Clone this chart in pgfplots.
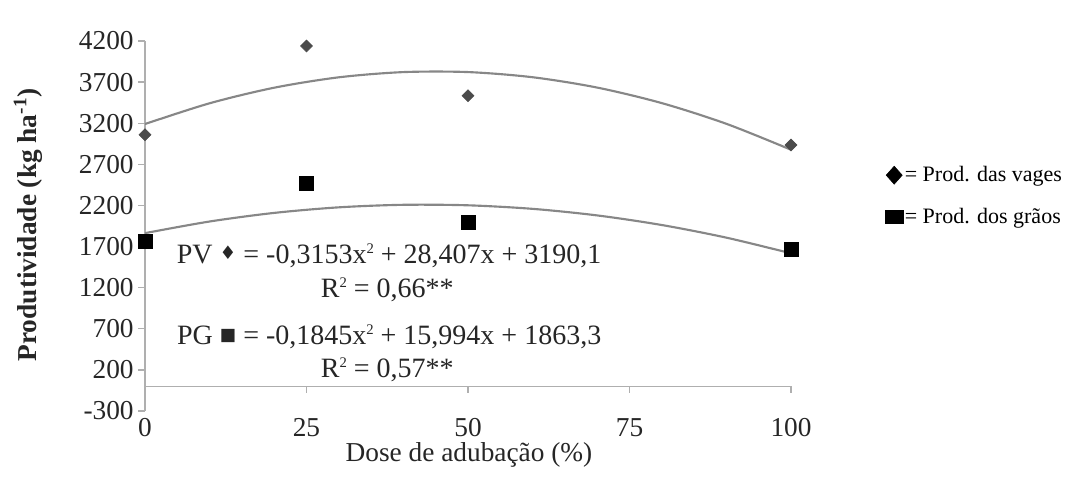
\documentclass[border=0pt]{standalone}
\usepackage{fontspec}
\setmainfont{Liberation Serif}
\newfontfamily\symfont{DejaVu Sans}
\usepackage{pgfplots}
\pgfplotsset{compat=1.18}
\definecolor{axgray}{RGB}{175,175,175}
\definecolor{curvegray}{RGB}{135,135,135}
\definecolor{markgray}{RGB}{75,75,75}
\newcommand{\sq}{\raisebox{0.75ex}{\fontsize{11}{11}\selectfont 2}}

\begin{document}
\begin{tikzpicture}
\useasboundingbox (-108.75pt,-51.75pt) rectangle (692.25pt,308.25pt);
\begin{axis}[
  at={(0pt,0pt)}, anchor=south west,
  scale only axis, width=484.5pt, height=277.5pt,
  xmin=0, xmax=100, ymin=-300, ymax=4200,
  axis y line*=left, axis x line*=bottom,
  x axis line style={draw=none},
  y axis line style={draw=axgray, line width=1.1pt, -},
  xtick={0,25,50,75,100},
  ytick={-300,200,...,4200},
  xtick style={draw=none},
  ytick style={draw=axgray, line width=1pt},
  tick align=outside,
  major tick length=5pt,
  tick label style={font=\fontsize{20.5}{24}\selectfont, text=black!85},
  xticklabel style={yshift=3pt},
  /pgf/number format/assume math mode=true,
  /pgf/number format/1000 sep={},
  clip=false,
  legend style={at={(1.145,0.665)}, anchor=north west, draw=none, fill=none,
    inner sep=0pt, font=\fontsize{16.5}{19}\selectfont, row sep=16pt,
    nodes={inner sep=1pt}},
  legend cell align=left,
]
\addlegendimage{legend image code/.code={\fill[black] (0pt,-6.75pt) -- (6pt,0pt) -- (0pt,6.75pt) -- (-6pt,0pt) -- cycle;}}
\addlegendentry{= Prod. das vages}
\addlegendimage{legend image code/.code={\fill[black] (-6.75pt,-5pt) rectangle (6.75pt,5pt);}}
\addlegendentry{= Prod. dos grãos}

% x axis line at y = 0
\draw[axgray, line width=1.1pt] (axis cs:0,0) -- (axis cs:100,0);
\pgfplotsinvokeforeach{25,50,75,100}{\draw[axgray, line width=1pt] (axis cs:#1,0) -- ++(0pt,-5pt);}

% fitted curves
\addplot[curvegray, line width=1.6pt, smooth, forget plot] coordinates {
 (0,3190.1) (10,3442.6) (20,3632.1) (30,3758.5) (40,3821.9) (50,3822.2)
 (60,3759.4) (70,3633.6) (80,3444.7) (90,3192.8) (100,2877.8)};
\addplot[curvegray, line width=1.6pt, smooth, forget plot] coordinates {
 (0,1863.3) (10,2004.8) (20,2109.4) (30,2177.1) (40,2207.9) (50,2201.8)
 (60,2158.7) (70,2078.8) (80,1962.0) (90,1808.3) (100,1617.7)};

% observed points
\addplot[only marks, mark=square*, mark size=3.2pt, mark options={rotate=45, fill=markgray, draw=markgray}, forget plot]
 coordinates {(0,3060) (25,4140) (50,3535) (100,2935)};
\addplot[only marks, mark=square*, mark size=5.4pt, mark options={fill=black, draw=black}, forget plot]
 coordinates {(0,1767) (25,2473) (50,1998) (100,1670)};

% equations
\node[font=\fontsize{21}{25}\selectfont, text=black!85] at (axis cs:37.8,1590)
 {PV \raisebox{0.25ex}{\symfont\fontsize{14}{14}\selectfont ♦} = -0,3153x\sq{} + 28,407x + 3190,1};
\node[font=\fontsize{21}{25}\selectfont, text=black!85] at (axis cs:37.5,1175)
 {R\sq{} = 0,66**};
\node[font=\fontsize{21}{25}\selectfont, text=black!85] at (axis cs:37.8,600)
 {PG \raisebox{0.3ex}{\symfont\fontsize{13}{13}\selectfont ■} = -0,1845x\sq{} + 15,994x + 1863,3};
\node[font=\fontsize{21}{25}\selectfont, text=black!85] at (axis cs:37.5,198)
 {R\sq{} = 0,57**};
\end{axis}
\node[rotate=90, font=\bfseries\fontsize{20.5}{24}\selectfont, text=black!85] at (-87.75pt,139.5pt)
 {Produtividade (kg ha\textsuperscript{-1})};
\node[font=\fontsize{20.5}{24}\selectfont, text=black!85] at (243pt,-33pt)
 {Dose de adubação (\%)};
\end{tikzpicture}
\end{document}
